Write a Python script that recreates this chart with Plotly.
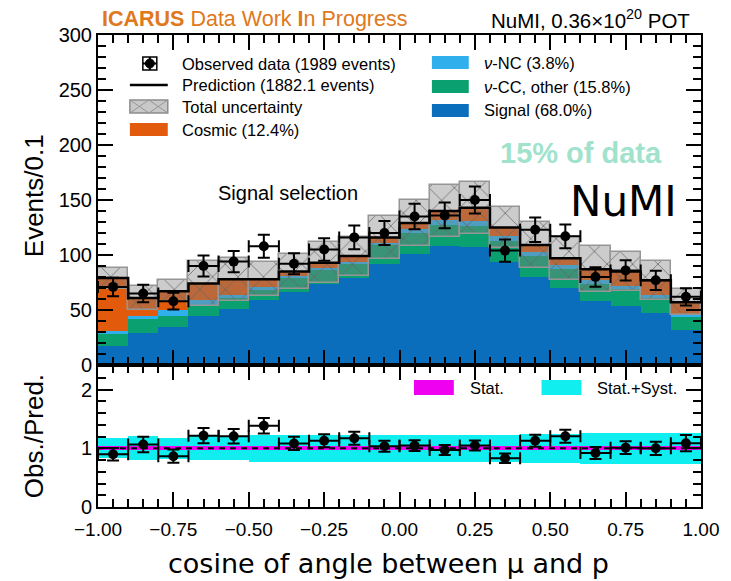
import numpy as np
import plotly.graph_objects as go

# ---------------- data ----------------
bin_edges = [round(-1.0 + 0.1 * i, 2) for i in range(21)]
signal   = [17, 29, 35, 45, 51, 59, 66, 74, 79, 92, 101, 108, 107, 94, 80, 70, 58, 54, 47, 32]
cc_other = [11, 13, 10, 10, 10, 9, 13, 12, 13, 17, 19, 19, 19, 19, 19, 17, 16, 15, 14, 12]
nc       = [3, 3, 5, 4, 3, 3, 2, 2, 2, 2, 4, 5, 5, 4, 4, 4, 3, 3, 3, 2]
cosmic   = [48, 16, 17, 15, 14, 7, 4, 5, 5, 5, 5, 8, 12, 8, 6, 6, 10, 13, 13, 11]
observed = [71, 65, 58, 90, 94, 108, 92, 105, 116, 120, 135, 136, 150, 104, 123, 117, 80, 86, 77, 62]
# relative total uncertainty on the prediction (upper panel band)
band_rel = [0.12, 0.18, 0.15, 0.28, 0.25, 0.20, 0.19, 0.20, 0.18, 0.17,
            0.16, 0.17, 0.165, 0.15, 0.19, 0.20, 0.24, 0.21, 0.23, 0.21]
# ratio panel bands
ratio_syst_rel = [0.17, 0.205, 0.18, 0.205, 0.205, 0.23, 0.23, 0.23, 0.23, 0.23,
                  0.23, 0.23, 0.23, 0.23, 0.245, 0.245, 0.26, 0.26, 0.26, 0.26]
ratio_stat_rel = [0.035] * 20
x_tick_vals = [-1.0, -0.75, -0.5, -0.25, 0.0, 0.25, 0.5, 0.75, 1.0]

C_SIG, C_CC, C_NC, C_COS = "#0a6ebd", "#0aa070", "#2fb0ec", "#e25a0c"

edges = np.array(bin_edges)
centers = 0.5 * (edges[:-1] + edges[1:])
bw = float(edges[1] - edges[0])
comps = [(signal, C_SIG), (cc_other, C_CC), (nc, C_NC), (cosmic, C_COS)]
total = np.sum([np.array(c) for c, _ in comps], axis=0).astype(float)
obs = np.array(observed, dtype=float)
rel = np.array(band_rel)
rrel = np.array(ratio_syst_rel)
srel = np.array(ratio_stat_rel)

fig = go.Figure()

# stacked prediction
base = np.zeros(len(centers))
for vals, col in comps:
    v = np.array(vals, dtype=float)
    fig.add_trace(go.Bar(x=centers, y=v, base=base.copy(), width=bw,
                         marker=dict(color=col, line=dict(width=0)),
                         xaxis="x", yaxis="y", showlegend=False, hoverinfo="skip"))
    base += v

# total uncertainty band
fig.add_trace(go.Bar(x=centers, y=2 * rel * total, base=total * (1 - rel), width=bw,
                     marker=dict(color="rgba(128,128,128,0.40)",
                                 line=dict(color="rgb(150,150,150)", width=1.5),
                                 pattern=dict(shape="x", fillmode="replace",
                                              bgcolor="rgba(128,128,128,0.40)",
                                              fgcolor="rgba(100,100,100,0.8)",
                                              size=18, solidity=0.1)),
                     xaxis="x", yaxis="y", showlegend=False, hoverinfo="skip"))

# prediction outline
fig.add_trace(go.Scatter(x=list(edges), y=list(total) + [total[-1]], mode="lines",
                         line=dict(color="black", width=2.5, shape="hv"),
                         xaxis="x", yaxis="y", showlegend=False, hoverinfo="skip"))

# observed data
fig.add_trace(go.Scatter(x=centers, y=obs, mode="markers",
                         marker=dict(color="black", size=10, symbol="circle"),
                         error_y=dict(type="data", array=np.sqrt(obs), color="black", thickness=2, width=6),
                         error_x=dict(type="data", array=[bw / 2] * len(obs), color="black", thickness=2, width=6),
                         xaxis="x", yaxis="y", showlegend=False, hoverinfo="skip"))

# ---------------- ratio panel ----------------
ratio = obs / total
ratio_err = np.sqrt(obs) / total
fig.add_trace(go.Bar(x=centers, y=2 * rrel, base=1 - rrel, width=bw,
                     marker=dict(color="#10eef0", line=dict(width=0)),
                     xaxis="x2", yaxis="y2", showlegend=False, hoverinfo="skip"))
fig.add_trace(go.Bar(x=centers, y=2 * srel, base=1 - srel, width=bw,
                     marker=dict(color="#f000f0", line=dict(width=0)),
                     xaxis="x2", yaxis="y2", showlegend=False, hoverinfo="skip"))
fig.add_trace(go.Scatter(x=[edges[0], edges[-1]], y=[1, 1], mode="lines",
                         line=dict(color="black", width=2, dash="6px,5px"),
                         xaxis="x2", yaxis="y2", showlegend=False, hoverinfo="skip"))
fig.add_trace(go.Scatter(x=centers, y=ratio, mode="markers",
                         marker=dict(color="black", size=10, symbol="circle"),
                         error_y=dict(type="data", array=ratio_err, color="black", thickness=2, width=6),
                         error_x=dict(type="data", array=[bw / 2] * len(obs), color="black", thickness=2, width=6),
                         xaxis="x2", yaxis="y2", showlegend=False, hoverinfo="skip"))

# ---------------- layout ----------------
L, R, T, B = 98, 28, 35, 74
W, H = 731, 581
PW, PH = W - L - R, H - T - B
split = 142 / PH


def px(x):
    return (x - L) / PW


def py(y):
    return (H - B - y) / PH


FONT = "Liberation Sans, Arial, Helvetica, sans-serif"
axis_common = dict(showline=True, linecolor="black", linewidth=2, mirror="allticks",
                   ticks="inside", ticklen=15, tickwidth=1.5, tickcolor="black",
                   showgrid=False, zeroline=False)

fig.update_layout(
    width=W, height=H, margin=dict(l=L, r=R, t=T, b=B),
    paper_bgcolor="white", plot_bgcolor="white",
    barmode="overlay", bargap=0, showlegend=False,
    font=dict(family=FONT, color="black"),
    xaxis=dict(domain=[0, 1], anchor="y", range=[-1, 1], matches="x2",
               tickvals=x_tick_vals, showticklabels=False,
               minor=dict(dtick=0.05, tick0=-1, ticks="inside", ticklen=8, tickwidth=1.5, tickcolor="black"),
               **axis_common),
    yaxis=dict(domain=[split, 1], anchor="x", range=[0, 300], dtick=50, tick0=0,
               tickfont=dict(size=20),
               minor=dict(dtick=10, ticks="inside", ticklen=8, tickwidth=1.5, tickcolor="black"),
               **axis_common),
    xaxis2=dict(domain=[0, 1], anchor="y2", range=[-1, 1],
                tickvals=x_tick_vals, tickformat=".2f", tickfont=dict(size=19),
                ticklabelstandoff=4,
                minor=dict(dtick=0.05, tick0=-1, ticks="inside", ticklen=8, tickwidth=1.5, tickcolor="black"),
                **axis_common),
    yaxis2=dict(domain=[0, split], anchor="x2", range=[0, 2.42], dtick=1, tick0=0,
                tickfont=dict(size=20),
                minor=dict(dtick=0.2, ticks="inside", ticklen=8, tickwidth=1.5, tickcolor="black"),
                **axis_common),
)

shapes = []
ann = []


def rect(x0, y0, x1, y1, fill, line="rgba(0,0,0,0)", lw=0):
    shapes.append(dict(type="rect", xref="paper", yref="paper", x0=px(x0), x1=px(x1), y0=py(y0), y1=py(y1),
                       fillcolor=fill, line=dict(color=line, width=lw), layer="above"))


def seg(x0, y0, x1, y1, col="black", lw=2):
    shapes.append(dict(type="line", xref="paper", yref="paper", x0=px(x0), x1=px(x1), y0=py(y0), y1=py(y1),
                       line=dict(color=col, width=lw), layer="above"))


def text(x, y, s, size, color="black", anchor="left", family=FONT, angle=0):
    ann.append(dict(xref="paper", yref="paper", x=px(x), y=py(y), text=s, showarrow=False,
                    xanchor=anchor, yanchor="middle", textangle=angle,
                    font=dict(size=size, color=color, family=family)))


# legend left column
rect(143, 57, 157, 70, "white", "black", 1.5)
seg(150, 57, 150, 70)
seg(143, 63.5, 157, 63.5)
shapes.append(dict(type="circle", xref="paper", yref="paper", x0=px(145.5), x1=px(154.5), y0=py(59), y1=py(68),
                   fillcolor="black", line=dict(color="black", width=1), layer="above"))
text(180, 63.5, "Observed data (1989 events)", 16.5)
seg(130, 85, 168, 85, "black", 2.5)
text(180, 85, "Prediction (1882.1 events)", 16.5)
rect(130, 100, 168, 113, "rgb(200,200,200)", "rgb(140,140,140)", 1.5)
shapes.append(dict(type="path", xref="paper", yref="paper",
                   path=f"M{px(130)},{py(100)} L{px(149)},{py(113)} L{px(168)},{py(100)} "
                        f"M{px(130)},{py(113)} L{px(149)},{py(100)} L{px(168)},{py(113)}",
                   line=dict(color="rgb(150,150,150)", width=1), layer="above"))
text(180, 107, "Total uncertainty", 16.5)
rect(130, 123, 168, 136, C_COS)
text(180, 129.5, "Cosmic (12.4%)", 16.5)

# legend right column
rect(433, 56, 470, 69, C_NC)
text(483, 63, "<i>ν</i>-NC (3.8%)", 16.5)
rect(433, 80, 470, 93, C_CC)
text(483, 86.5, "<i>ν</i>-CC, other (15.8%)", 16.5)
rect(433, 104, 470, 117, C_SIG)
text(483, 110.5, "Signal (68.0%)", 16.5)

# ratio legend
rect(415, 380, 455, 395, "#f000f0")
text(469, 388, "Stat.", 16.5)
rect(543, 380, 583, 395, "#10eef0")
text(597, 388, "Stat.+Syst.", 16.5)

# header and annotations
text(100, 19, "<b>ICARUS</b> Data Work <b>I</b>n Progress", 21.5, color="#e0781c")
text(694, 19, "NuMI, 0.36×10<sup>20</sup> POT", 20.5, anchor="right")
text(289, 193, "Signal selection", 20, anchor="center")
text(583, 153, "<b>15% of data</b>", 29, color="#a0e2cb", anchor="center")
text(625, 202, "NuMI", 42, anchor="center", family="DejaVu Sans, sans-serif")
text(389, 563, "cosine of angle between μ and p", 27, anchor="center", family="DejaVu Sans, sans-serif")
text(34, 196, "Events/0.1", 26, anchor="center", angle=-90)
text(34, 436, "Obs./Pred.", 26, anchor="center", angle=-90)

fig.update_layout(shapes=shapes, annotations=ann)
fig.write_html("out.html")
